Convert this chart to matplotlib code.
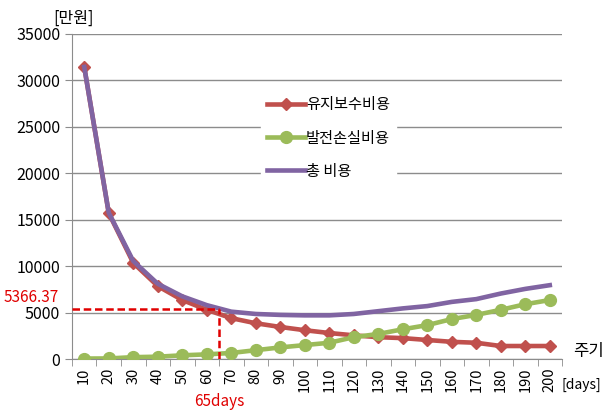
import matplotlib
matplotlib.use("Agg")
import matplotlib.pyplot as plt
import numpy as np

plt.rcParams['font.family'] = ['Noto Sans CJK KR', 'DejaVu Sans']

# cycle in days
days = [10, 20, 30, 40, 50, 60, 70, 80, 90, 100,
        110, 120, 130, 140, 150, 160, 170, 180, 190, 200]
# maintenance cost [만원]
maint = [31450, 15700, 10350, 7850, 6350, 5300, 4400, 3850, 3450, 3100,
         2800, 2550, 2350, 2250, 2050, 1850, 1750, 1400, 1400, 1400]
# generation loss cost
loss = [50, 60, 200, 250, 400, 500, 650, 950, 1250, 1500,
        1750, 2350, 2700, 3200, 3650, 4300, 4750, 5300, 5900, 6350]
# total cost
total = [31450, 15750, 10550, 8100, 6750, 5800, 5100, 4850, 4750, 4700,
         4700, 4850, 5150, 5450, 5700, 6150, 6450, 7050, 7550, 7950]

opt_day = 65
opt_cost = 5366.37

red = '#C0504D'
green = '#9BBB59'
purple = '#8064A2'
grid_c = '#8C8C8C'

fig = plt.figure(figsize=(6.05, 4.12), dpi=100)
ax = fig.add_axes([0.119, 0.1286, 0.81, 0.789])

x = np.arange(len(days))
ax.plot(x, maint, color=red, lw=3.3, marker='D', ms=6.5, zorder=3, label='유지보수비용')
ax.plot(x, loss, color=green, lw=3.3, marker='o', ms=8.5, zorder=3, label='발전손실비용')
ax.plot(x, total, color=purple, lw=3.3, zorder=4, label='총 비용')

# optimum marker lines
xo = days.index(60) + (opt_day - 60) / 10.0
ax.plot([-0.5, xo], [opt_cost, opt_cost], color='#E00000', lw=1.8, ls=(0, (3, 1.5)), zorder=5)
ax.plot([xo, xo], [0, opt_cost], color='#E00000', lw=1.8, ls=(0, (3, 1.5)), zorder=5)

ax.set_xlim(-0.5, len(days) - 0.5)
ax.set_ylim(0, 35000)
ax.set_yticks(range(0, 35001, 5000))
ax.set_xticks(x)
ax.set_xticklabels([str(d) for d in days], rotation=90, fontsize=10.5)
ax.set_xticks(np.arange(-0.5, len(days), 1), minor=True)
ax.tick_params(axis='x', which='major', length=0, pad=6)
ax.tick_params(axis='x', which='minor', length=5, color=grid_c, direction='out')
ax.tick_params(axis='y', length=5, color=grid_c, labelsize=11.5)
ax.yaxis.grid(True, color=grid_c, lw=1)
ax.set_axisbelow(True)
for s in ['top', 'right']:
    ax.spines[s].set_visible(False)
for s in ['left', 'bottom']:
    ax.spines[s].set_color(grid_c)

leg = ax.legend(loc='upper left', bbox_to_anchor=(0.37, 0.85), frameon=True,
                fancybox=False, edgecolor='white', framealpha=1, fontsize=11,
                handlelength=2.5, labelspacing=1.05, handletextpad=0.05,
                borderpad=0.4)
leg.set_zorder(6)

fig.text(0.088, 0.955, '[만원]', fontsize=11.5, ha='left', va='center')
fig.text(0.006, 0.278, '5366.37', fontsize=11, color='#E00000', ha='left', va='center')
ax.text(xo, -0.105, '65days', transform=ax.get_xaxis_transform(), fontsize=11,
        color='#E00000', ha='center', va='top')
fig.text(0.948, 0.147, '주기', fontsize=12, ha='left', va='center')
fig.text(0.928, 0.065, '[days]', fontsize=10, ha='left', va='center')

fig.savefig('out.png', dpi=100)
